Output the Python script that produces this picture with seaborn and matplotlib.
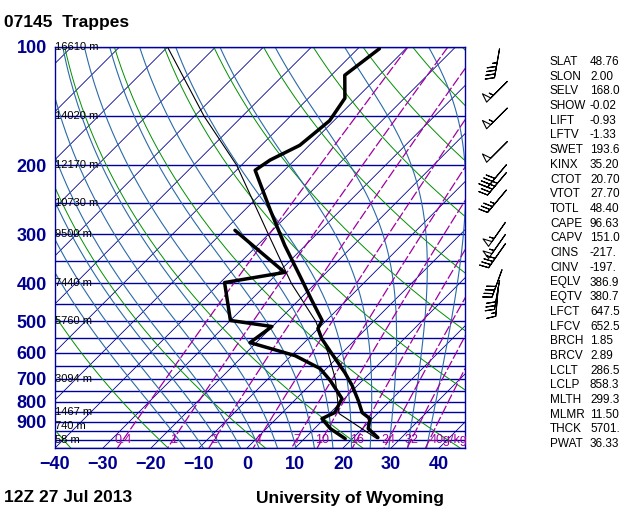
import numpy as np
import matplotlib
matplotlib.use("Agg")
import matplotlib.pyplot as plt
import seaborn as sns

sns.set_theme(style="white")
plt.rcParams['font.family'] = ['Liberation Sans', 'DejaVu Sans']
plt.rcParams['text.color'] = 'black'

# ---- data ----
pres_T = [988, 937, 884, 853, 795, 728, 675, 621, 553, 521, 497, 442, 382, 320, 260, 206, 194, 178, 154, 135, 118, 101]
temp   = [25.1, 21.2, 19.5, 16.6, 13.3, 8.9, 4.7, -0.3, -7.2, -10.1, -10.9, -17.2, -24.9, -34.3, -44.7, -56.1, -55.1, -52.0, -50.9, -52.4, -57.2, -55.5]
pres_D = [994, 937, 884, 853, 786, 707, 659, 611, 566, 515, 497, 398, 375, 293]
dewpt  = [18.5, 13.3, 9.5, 10.9, 9.5, 3.3, -1.3, -9.2, -21.3, -20.1, -30.0, -39.1, -28.7, -47.8]
parcel_p = [994, 858, 700, 600, 500, 400, 300, 200, 150, 100]
parcel_t = [25.1, 12.0, 4.0, -3.0, -12.0, -25.0, -40.0, -61.0, -78.0, -100.0]
height_p = [100, 150, 200, 250, 300, 400, 500, 700, 850, 925, 1000]
height_lbl = ["16610 m", "14020 m", "12170 m", "10730 m", "9500 m", "7440 m", "5760 m", "3094 m", "1467 m", "740 m", "58 m"]
mix_ratios = [0.4, 1, 2, 4, 7, 10, 16, 24, 32, 40]
mix_lbls = ["0.4", "1", "2", "4", "7", "10", "16", "24", "32", "40g/kg"]
barb_p   = [72, 85, 110, 130, 152, 185, 213, 223, 247, 300, 322, 340, 400, 428, 445]
barb_spd = [35, 50, 45, 55, 55, 50, 40, 45, 35, 55, 55, 40, 40, 30, 15]
barb_dir = [225, 225, 190, 225, 225, 225, 220, 220, 220, 215, 215, 215, 200, 190, 185]
stat_names = ["SLAT","SLON","SELV","SHOW","LIFT","LFTV","SWET","KINX","CTOT","VTOT","TOTL","CAPE","CAPV","CINS","CINV","EQLV","EQTV","LFCT","LFCV","BRCH","BRCV","LCLT","LCLP","MLTH","MLMR","THCK","PWAT"]
stat_vals = ["48.76","2.00","168.0","-0.02","-0.93","-1.33","193.6","35.20","20.70","27.70","48.40","96.63","151.0","-217.","-197.","386.9","380.7","647.5","652.5","1.85","2.89","286.5","858.3","299.3","11.50","5701.","36.33"]

PB = 1050.0
SK = 81.7
def sx(T, p):
    return np.asarray(T) + SK * np.log10(PB / np.asarray(p))

fig = plt.figure(figsize=(6.4, 5.12), dpi=100)
ax = fig.add_axes([55/640, 64/512, 410/640, 401/512])
ax.set_yscale('log')
ax.set_ylim(PB, 100)
ax.set_xlim(-40, 45.4)

pp = np.logspace(np.log10(100), np.log10(PB), 200)
for p in range(100, 1051, 50):
    ax.axhline(p, color='#0000a0', lw=1.0, zorder=1)
for T in range(-160, 60, 10):
    ax.plot(sx(T, pp), pp, color='#000090', lw=0.6, zorder=1)
for th in range(-40, 260, 20):
    Tk = (th + 273.15) * (pp / 1000.0) ** 0.286 - 273.15
    ax.plot(sx(Tk, pp), pp, color='#009000', lw=0.7, zorder=1)

def dTdp(T, p):
    Tk = T + 273.15
    es = 6.112*np.exp(17.67*T/(T+243.5))
    rs = 0.622*es/(p-es)
    Lv = 2.5e6; Rd = 287.0; cp = 1004.0; eps = 0.622
    return (Rd*Tk + Lv*rs)/(cp + Lv*Lv*rs*eps/(Rd*Tk*Tk)) / p
def moist(tw):
    p = 1000.0; T = tw; res_p=[p]; res_T=[T]
    while p > 100:
        T -= dTdp(T, p)*5; p -= 5; res_p.append(p); res_T.append(T)
    p = 1000.0; T = tw; up_p=[]; up_T=[]
    while p < PB:
        T += dTdp(T, p)*5; p += 5; up_p.append(p); up_T.append(T)
    return np.array(up_p[::-1]+res_p), np.array(up_T[::-1]+res_T)
for tw in range(-16, 40, 4):
    mp, mt = moist(tw)
    ax.plot(sx(mt, mp), mp, color='#2a6aa8', lw=0.8, zorder=1)

for w in mix_ratios:
    e = w * pp / (622.0 + w)
    l = np.log(e / 6.112)
    Td = 243.5 * l / (17.67 - l)
    ax.plot(sx(Td, pp), pp, color='#a000a0', lw=0.9, ls=(0, (8, 2)), zorder=1)
for w, lab in zip(mix_ratios, mix_lbls):
    e = w * 1000 / (622.0 + w)
    l = np.log(e / 6.112)
    Td = 243.5 * l / (17.67 - l)
    ax.text(sx(Td, 1000), 1000, lab, color='#a000a0', fontsize=9,
            ha='left' if lab.endswith('kg') else 'center', va='center', zorder=3)

sns.lineplot(x=sx(temp, pres_T), y=pres_T, sort=False, color='black', lw=2.5, ax=ax, zorder=5)
sns.lineplot(x=sx(dewpt, pres_D), y=pres_D, sort=False, color='black', lw=2.5, ax=ax, zorder=5)
ax.plot(sx(parcel_t, parcel_p), parcel_p, color='black', lw=0.8, zorder=4)

for p, lab in zip(height_p, height_lbl):
    ax.text(-40, p, lab, fontsize=8, color='black', ha='left', va='center', zorder=6)

ax.set_yticks([100, 200, 300, 400, 500, 600, 700, 800, 900])
ax.set_yticklabels(['100', '200', '300', '400', '500', '600', '700', '800', '900'])
ax.yaxis.set_minor_locator(matplotlib.ticker.NullLocator())
ax.set_xticks(range(-40, 41, 10))
ax.tick_params(axis='both', labelsize=13, length=0, pad=6)
for t in ax.get_xticklabels() + ax.get_yticklabels():
    t.set_color('#000090'); t.set_fontweight('bold')
ax.set_xlabel(''); ax.set_ylabel('')
for s in ax.spines.values():
    s.set_color('#0000a0'); s.set_linewidth(1)

bax = fig.add_axes([470/640, 64/512, 60/640, 401/512])
bax.set_yscale('log'); bax.set_ylim(PB, 100); bax.set_xlim(0, 1)
bax.axis('off')
d = np.deg2rad(barb_dir)
u = -np.array(barb_spd) * np.sin(d)
v = -np.array(barb_spd) * np.cos(d)
bax.barbs(np.full(len(barb_p), 0.45), barb_p, u, v, length=6.5, lw=0.8, pivot='middle',
          barbcolor='black', flagcolor='white',
          sizes=dict(height=0.3, spacing=0.13, width=0.2))

for i, (n, v_) in enumerate(zip(stat_names, stat_vals)):
    y = 1 - (62 + i * 14.7) / 512
    fig.text(550/640, y, n, fontsize=8.5, va='center')
    fig.text(590/640, y, v_, fontsize=8.5, va='center')

fig.text(4/640, 1 - 22/512, "07145  Trappes", fontsize=12.5, fontweight='bold', va='center')
fig.text(4/640, 1 - 498/512, "12Z 27 Jul 2013", fontsize=12.5, fontweight='bold', va='center')
fig.text(256/640, 1 - 498/512, "University of Wyoming", fontsize=12.5, fontweight='bold', va='center')

fig.savefig("out.png", dpi=100, facecolor='white')
